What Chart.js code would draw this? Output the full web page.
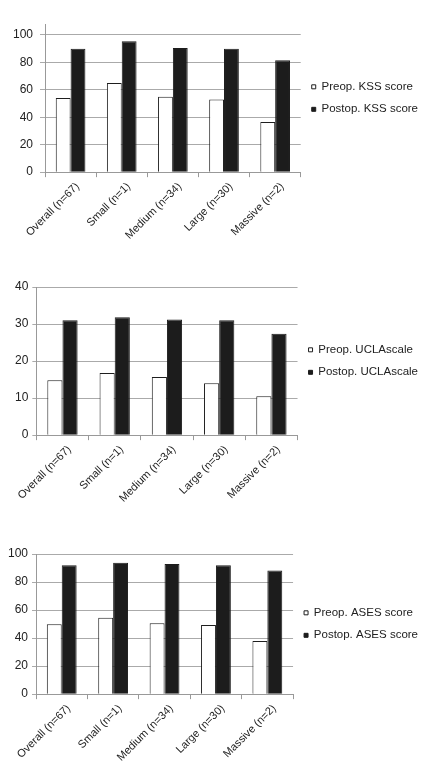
<!DOCTYPE html>
<html>
<head>
<meta charset="utf-8">
<script src="https://cdn.jsdelivr.net/npm/chart.js@4"></script>
<style>
  html, body { margin: 0; padding: 0; background: #fff; }
  body { width: 428px; height: 773px; position: relative; overflow: hidden; }
  .box { position: absolute; left: 0; width: 428px; }
</style>
</head>
<body>
<div class="box" style="top:0;height:245px"><canvas id="kss"></canvas></div>
<div class="box" style="top:262px;height:246px"><canvas id="ucla"></canvas></div>
<div class="box" style="top:520px;height:247px"><canvas id="ases"></canvas></div>
<script>
const categories = ['Overall (n=67)', 'Small (n=1)', 'Medium (n=34)', 'Large (n=30)', 'Massive (n=2)'];

const kssPreop = [54, 65, 55, 53, 36.5];
const kssPostop = [90, 95.5, 90.5, 90, 81.5];
const kssTicks = [0, 20, 40, 60, 80, 100];

const uclaPreop = [14.8, 16.8, 15.7, 14, 10.5];
const uclaPostop = [31, 31.8, 31.2, 31, 27.4];
const uclaTicks = [0, 10, 20, 30, 40];

const asesPreop = [49.8, 54.5, 50.5, 49.3, 38];
const asesPostop = [92, 93.8, 92.8, 92, 88.3];
const asesTicks = [0, 20, 40, 60, 80, 100];

Chart.defaults.font.family = '"Liberation Sans", Arial, Helvetica, sans-serif';
Chart.defaults.font.size = 12;
Chart.defaults.color = '#222';
Chart.defaults.animation = false;

function makeChart(id, labels, pre, post, ticks, yMax, pad, yPad, yTick) {
  return new Chart(document.getElementById(id), {
    type: 'bar',
    data: {
      labels: categories,
      datasets: [{
        label: labels[0],
        data: pre,
        backgroundColor: '#ffffff',
        borderColor: '#1e1e1e',
        borderWidth: 1,
        barPercentage: 1,
        categoryPercentage: 0.58
      }, {
        label: labels[1],
        data: post,
        backgroundColor: '#1c1c1c',
        borderColor: '#1c1c1c',
        borderWidth: 1,
        barPercentage: 1,
        categoryPercentage: 0.58
      }]
    },
    options: {
      responsive: true,
      maintainAspectRatio: false,
      layout: { padding: pad },
      plugins: {
        legend: {
          position: 'right',
          fullSize: false,
          align: 'center',
          maxWidth: 170,
          labels: {
            boxWidth: 4,
            boxHeight: 4,
            padding: 11,
            color: '#222',
            font: { size: 11.5 }
          }
        },
        tooltip: { enabled: false }
      },
      scales: {
        x: {
          grid: {
            offset: true,
            drawOnChartArea: false,
            tickLength: 5,
            color: '#999'
          },
          border: { color: '#999' },
          ticks: {
            minRotation: 45,
            maxRotation: 45,
            padding: 3,
            labelOffset: 7,
            color: '#222',
            font: { size: 11 }
          }
        },
        y: {
          min: 0,
          max: yMax,
          afterBuildTicks: axis => {
            axis.ticks = ticks.map(v => ({ value: v }));
          },
          grid: { color: '#aaa', tickLength: yTick },
          border: { color: '#999' },
          ticks: { padding: yPad, color: '#222' }
        }
      }
    }
  });
}

makeChart('kss', ['Preop. KSS score', 'Postop. KSS score'], kssPreop, kssPostop, kssTicks,
  108, { top: 24, left: 6, right: 0, bottom: 0 }, 7, 5);
makeChart('ucla', ['Preop. UCLAscale', 'Postop. UCLAscale'], uclaPreop, uclaPostop, uclaTicks,
  40, { top: 25, left: 11, right: 0, bottom: 0 }, 4, 4);
makeChart('ases', ['Preop. ASES score', 'Postop. ASES score'], asesPreop, asesPostop, asesTicks,
  100, { top: 34, left: 4, right: 0, bottom: 0 }, 4, 4);
</script>
</body>
</html>
